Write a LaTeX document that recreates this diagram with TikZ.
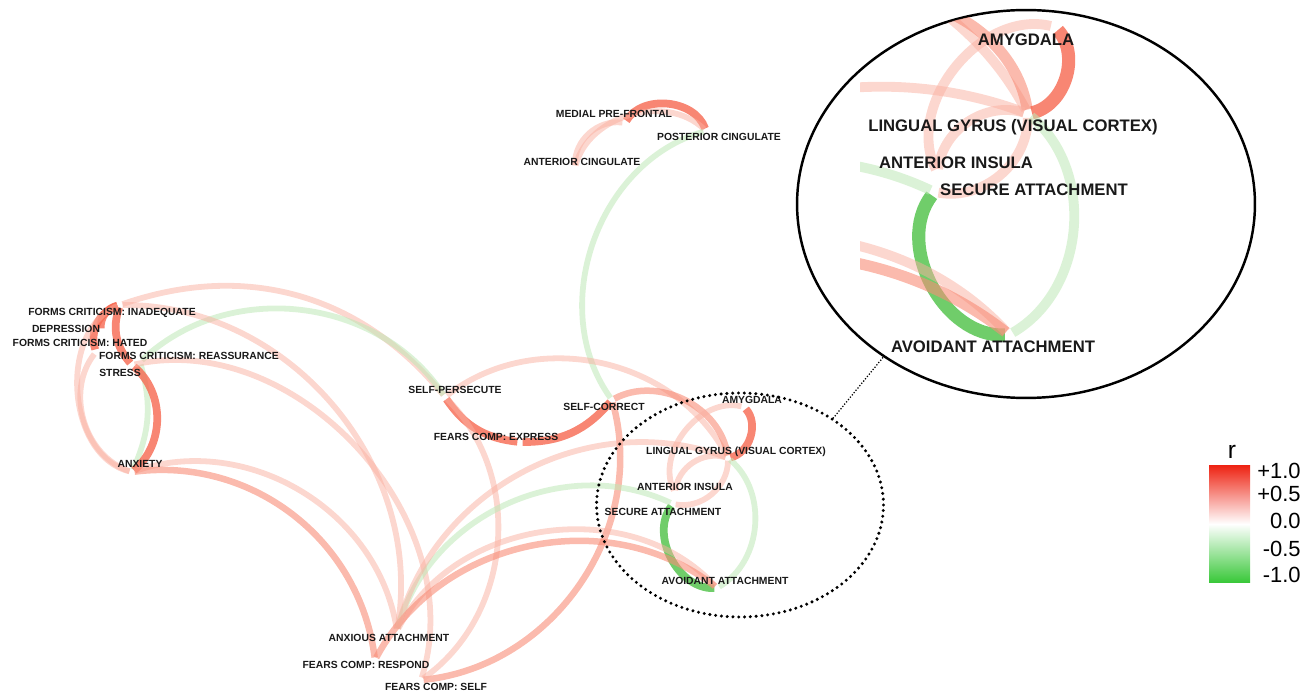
\documentclass[tikz,border=0pt]{standalone}
\usepackage{fontspec}
\setmainfont{Liberation Sans}
\usetikzlibrary{shapes.geometric}
\definecolor{redhi}{RGB}{246,104,80}
\definecolor{redmid}{RGB}{248,140,118}
\definecolor{redlo}{RGB}{250,175,160}
\definecolor{greenlo}{RGB}{190,232,182}
\definecolor{greenhi}{RGB}{96,200,90}
\definecolor{labink}{RGB}{25,25,25}
\definecolor{barred}{RGB}{238,38,22}
\definecolor{bargreen}{RGB}{58,200,58}
\newcommand{\netk}{1}
\newcommand{\drawnet}[1]{%
  % regions
  \node[dot] (#1mpf) at (625,123) {};
  \node[dot] (#1pci) at (706,131) {};
  \node[dot] (#1aci) at (575,168) {};
  \node[dot] (#1fin) at (120,305) {};
  \node[dot] (#1dep) at (101,331) {};
  \node[dot] (#1fha) at (96,352) {};
  \node[dot] (#1fre) at (140,362) {};
  \node[dot] (#1str) at (132,365) {};
  \node[dot] (#1anx) at (132,472) {};
  \node[dot] (#1spe) at (445,397) {};
  \node[dot] (#1fex) at (520,442) {};
  \node[dot] (#1sco) at (612,400) {};
  \node[dot] (#1amy) at (744,407) {};
  \node[dot] (#1lin) at (728,458) {};
  \node[dot] (#1ins) at (675,493) {};
  \node[dot] (#1sec) at (673,504) {};
  \node[dot] (#1avo) at (717,588) {};
  \node[dot] (#1axa) at (397,631) {};
  \node[dot] (#1frs) at (375,660) {};
  \node[dot] (#1fse) at (421,680) {};
  % top cluster
  \draw[rs] (#1mpf) to[bend left=65] (#1pci);
  \draw[rl] (#1aci) to[bend left=50] (#1mpf);
  \draw[rl] (#1aci) to[bend left=60] (#1pci);
  \draw[gl] (#1sco) to[bend left=55] (#1pci);
  % left cluster
  \draw[gl] (#1fre) to[bend left=20] (#1anx);
  \draw[rs] (#1fin) to[bend right=45] (#1fha);
  \draw[rs] (#1fin) to[bend right=40] (#1dep);
  \draw[rs] (#1fin) to[bend right=30] (#1str);
  \draw[rs] (#1str) to[bend left=50] (#1anx);
  \draw[rl] (#1fha) to[bend right=55] (#1anx);
  \draw[rl] (#1fin) to[bend right=72] (#1anx);
  \draw[rl] (#1fin) to[bend left=35] (#1spe);
  \draw[gl] (#1fre) to[bend left=50] (#1spe);
  \draw[rl] (#1fin) to[bend left=50] (#1axa);
  \draw[rl] (#1str) to[bend left=60] (#1fse);
  \draw[rl] (#1anx) to[bend left=50] (#1axa);
  \draw[rm] (#1anx) to[bend left=45] (#1frs);
  % self criticism
  \draw[rs] (#1spe) to[bend right=25] (#1fex);
  \draw[rs] (#1fex) to[bend right=25] (#1sco);
  \draw[rl] (#1spe) to[bend left=50] (#1lin);
  \draw[rm] (#1sco) to[bend left=55] (#1lin);
  \draw[rm] (#1sco) to[bend left=50] (#1fse);
  \draw[rl] (#1spe) to[bend left=50] (#1fse);
  % attachment and brain
  \draw[rs] (#1amy) to[bend left=60] (#1lin);
  \draw[rl] (#1amy) to[bend right=65] (#1ins);
  \draw[rl] (#1lin) to[bend right=50] (#1ins);
  \draw[rl] (#1lin) to[bend left=50] (#1sec);
  \draw[gl] (#1lin) to[bend left=55] (#1avo);
  \draw[gs] (#1sec) to[bend right=65] (#1avo);
  \draw[gl] (#1sec) to[bend right=50] (#1axa);
  \draw[rl] (#1avo) to[bend right=55] (#1axa);
  \draw[rm] (#1avo) to[bend right=50] (#1frs);
  \draw[rl] (#1lin) to[bend right=48] (#1axa);
}

\begin{document}
\begin{tikzpicture}[
  x=0.02cm, y=-0.02cm,
  dot/.style={circle, fill=white, inner sep=0pt, minimum size={2.6pt*\netk}},
  rs/.style={draw=redhi, draw opacity=.8, line width={4.4pt*\netk}},
  rm/.style={draw=redmid, draw opacity=.6, line width={3.7pt*\netk}},
  rl/.style={draw=redlo, draw opacity=.5, line width={3.3pt*\netk}},
  gl/.style={draw=greenlo, draw opacity=.55, line width={3.3pt*\netk}},
  gs/.style={draw=greenhi, draw opacity=.9, line width={4.4pt*\netk}},
  lab/.style={font=\fontsize{5.9}{7}\selectfont\bfseries, text=labink, inner sep=0pt},
  biglab/.style={lab, font=\fontsize{9.5}{11}\selectfont\bfseries},
  ring/.style={draw, ellipse, line width=1.9pt, line cap=round, dash pattern=on 0pt off 3.3pt},
  lens/.style={draw, ellipse, line width=1.4pt},
  tick/.style={font=\fontsize{12.5}{12.5}\selectfont, anchor=east, inner sep=0pt}
]
  \useasboundingbox (0,0) rectangle (1312,692);

  \drawnet{m}

  \node[lab] (lmpf) at (614,114) {MEDIAL PRE-FRONTAL};
  \node[lab] (lpci) at (719,137) {POSTERIOR CINGULATE};
  \node[lab] (laci) at (582,162) {ANTERIOR CINGULATE};
  \node[lab] (lfin) at (112,313) {FORMS CRITICISM: INADEQUATE};
  \node[lab] (ldep) at (66,329) {DEPRESSION};
  \node[lab] (lfha) at (80,343) {FORMS CRITICISM: HATED};
  \node[lab] (lfre) at (189,356) {FORMS CRITICISM: REASSURANCE};
  \node[lab] (lstr) at (120,373) {STRESS};
  \node[lab] (lanx) at (140,464) {ANXIETY};
  \node[lab] (lspe) at (455,390) {SELF-PERSECUTE};
  \node[lab] (lsco) at (604,407) {SELF-CORRECT};
  \node[lab] (lfex) at (496,437) {FEARS COMP: EXPRESS};
  \node[lab] (lamy) at (752,400) {AMYGDALA};
  \node[lab] (llin) at (736,452) {LINGUAL GYRUS (VISUAL CORTEX)};
  \node[lab] (lins) at (685,487) {ANTERIOR INSULA};
  \node[lab] (lsec) at (663,512) {SECURE ATTACHMENT};
  \node[lab] (lavo) at (725,581) {AVOIDANT ATTACHMENT};
  \node[lab] (laxa) at (389,638) {ANXIOUS ATTACHMENT};
  \node[lab] (lfrs) at (366,665) {FEARS COMP: RESPOND};
  \node[lab] (lfse) at (436,687) {FEARS COMP: SELF};

  % zoomed view
  \node[ring, minimum width=5.74cm, minimum height=4.48cm] (zring) at (740,505) {};
  \node[lens, minimum width=9.16cm, minimum height=7.76cm] (zlens) at (1026,204) {};
  \draw[line width=1pt, line cap=round, dash pattern=on 0pt off 1.7pt] (zring.43) -- (zlens.227);
  \begin{scope}
    \clip (1026,204) ellipse [x radius=228, y radius=193];
    \clip (860,0) rectangle (1168,400);
    \begin{scope}[shift={(-210,-665)}, scale=1.7]
      \renewcommand{\netk}{1.7}
      \drawnet{z}
    \end{scope}
  \end{scope}
  \node[biglab] (zlamy) at (1026,40) {AMYGDALA};
  \node[biglab] (zllin) at (1013,127) {LINGUAL GYRUS (VISUAL CORTEX)};
  \node[biglab] (zlins) at (956,163) {ANTERIOR INSULA};
  \node[biglab] (zlsec) at (1034,190) {SECURE ATTACHMENT};
  \node[biglab] (zlavo) at (993,347) {AVOIDANT ATTACHMENT};

  % legend
  \node[font=\fontsize{14}{14}\selectfont, inner sep=0pt] (rhead) at (1232,452) {r};
  \shade[top color=barred, bottom color=bargreen, middle color=white] (1209,466) rectangle (1250,582);
  \node[tick] (tpa) at (1301,471) {+1.0};
  \node[tick] (tpb) at (1301,494) {+0.5};
  \node[tick] (tzero) at (1301,521) {0.0};
  \node[tick] (tna) at (1301,549) {-0.5};
  \node[tick] (tnb) at (1301,575) {-1.0};
\end{tikzpicture}
\end{document}
